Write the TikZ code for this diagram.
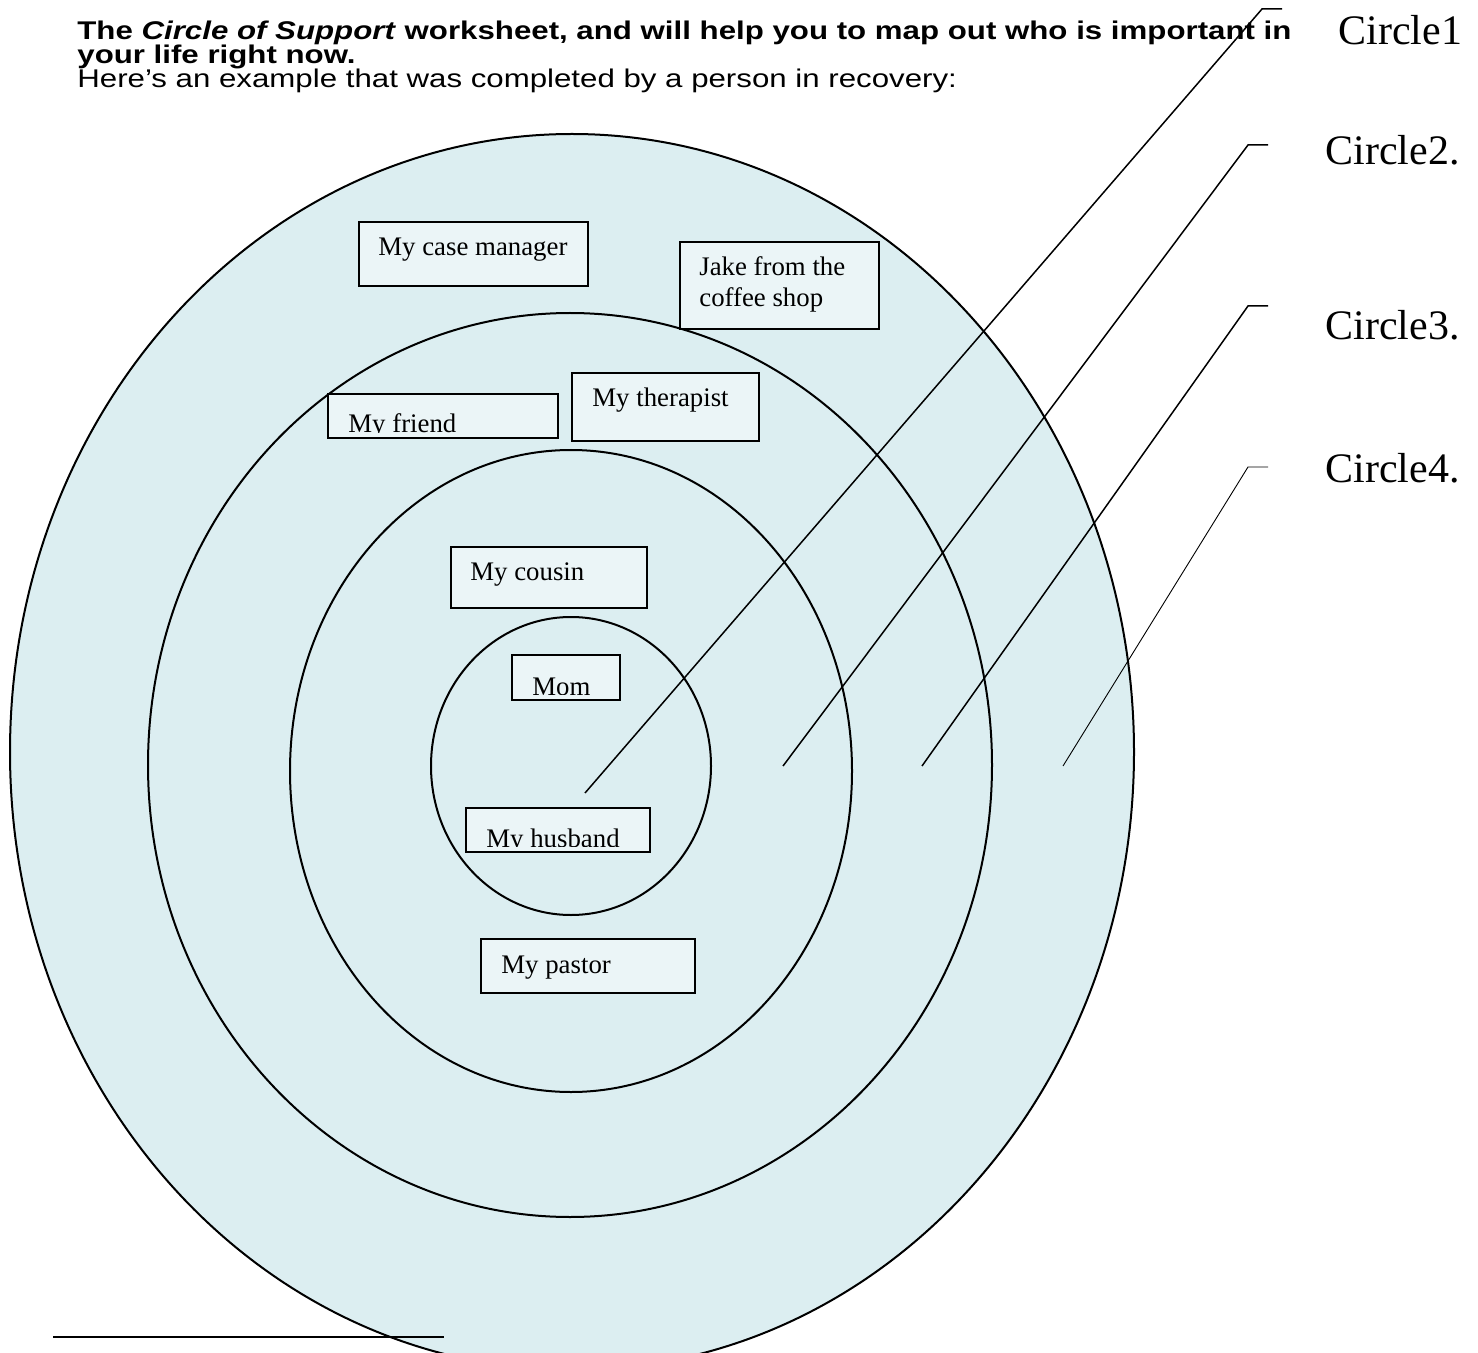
\documentclass[tikz,border=0pt]{standalone}
\usepackage{fontspec}
\setmainfont{Liberation Serif}
\newfontfamily\headfont[FakeStretch=1.22]{Liberation Sans}
\newcommand\headsize{\headfont\fontsize{12.8}{12}\selectfont\lineskiplimit=-20pt\relax}
\usetikzlibrary{positioning}
\definecolor{ringfill}{HTML}{DCEEF1}

\begin{document}
\begin{tikzpicture}[x=0.5pt, y=-0.5pt,
  ring/.style={draw=black, line width=1pt, fill=ringfill},
  personbox/.style={rectangle, draw=black, line width=0.9pt, fill=white, fill opacity=0.45, anchor=north west, inner sep=0pt},
  persontext/.style={anchor=base west, inner sep=0pt, font=\fontsize{13.4}{15}\selectfont},
  ringlabel/.style={anchor=base west, inner sep=0pt, font=\fontsize{21}{24}\selectfont},
  headline/.style={anchor=north west, inner sep=0pt, align=left, font=\headsize},
  leader/.style={line width=0.75pt}]

  \useasboundingbox (0,0) rectangle (1478,1353);
  \fill[white] (0,0) rectangle (1478,1353);
  \clip (0,0) rectangle (1478,1353);

  % heading
  \node[headline] (head) at (77,21) {\textbf{The \textit{Circle of Support} worksheet, and will help you to map out who is important in}\\
    \textbf{your life right now.}\\
    Here’s an example that was completed by a person in recovery:};

  % the four rings
  \draw[ring] (572,752) ellipse [x radius=562, y radius=618];
  \draw[ring] (570,765) ellipse [x radius=422, y radius=452];
  \draw[ring] (571,771) ellipse [x radius=281, y radius=321];
  \draw[ring] (571,766) ellipse [x radius=140, y radius=149];

  % people
  \node[personbox, minimum width=114.5pt, minimum height=32pt] (casemgr) at (358,221) {};
  \node[persontext] (casemgrtxt) at ([shift={(20,35)}]casemgr.north west) {My case manager};

  \node[personbox, minimum width=99.5pt, minimum height=43.5pt] (jake) at (679,241) {};
  \node[persontext] (jaketxt1) at ([shift={(20,35)}]jake.north west) {Jake from the};
  \node[persontext] (jaketxt2) at ([shift={(20,66)}]jake.north west) {coffee shop};

  \node[personbox, minimum width=115pt, minimum height=22pt] (friend) at (327,393) {};
  \begin{scope}
    \clip ([shift={(2,-6)}]friend.south west) rectangle ([shift={(-2,2)}]friend.north east);
    \node[persontext] (friendtxt) at ([shift={(21,-6)}]friend.south west) {My friend};
  \end{scope}

  \node[personbox, minimum width=93.5pt, minimum height=34pt] (therapist) at (571,372) {};
  \node[persontext] (therapisttxt) at ([shift={(21,35)}]therapist.north west) {My therapist};

  \node[personbox, minimum width=98pt, minimum height=30.5pt] (cousin) at (450,546) {};
  \node[persontext] (cousintxt) at ([shift={(20,35)}]cousin.north west) {My cousin};

  \node[personbox, minimum width=54pt, minimum height=22.5pt] (mom) at (511,654) {};
  \begin{scope}
    \clip ([shift={(2,-6)}]mom.south west) rectangle ([shift={(-2,2)}]mom.north east);
    \node[persontext] (momtxt) at ([shift={(21,-5)}]mom.south west) {Mom};
  \end{scope}

  \node[personbox, minimum width=92pt, minimum height=22pt] (husband) at (465,807) {};
  \begin{scope}
    \clip ([shift={(2,-6)}]husband.south west) rectangle ([shift={(-2,2)}]husband.north east);
    \node[persontext] (husbandtxt) at ([shift={(21,-5)}]husband.south west) {My husband};
  \end{scope}

  \node[personbox, minimum width=107pt, minimum height=27pt] (pastor) at (480,938) {};
  \node[persontext] (pastortxt) at ([shift={(21,35)}]pastor.north west) {My pastor};

  % ring labels
  \node[ringlabel] (lab1) at (1338,45) {Circle1};
  \node[ringlabel] (lab2) at (1325,165) {Circle2.};
  \node[ringlabel] (lab3) at (1325,340) {Circle3.};
  \node[ringlabel] (lab4) at (1325,483) {Circle4.};

  % leader lines
  \coordinate (tip1) at (585,793);
  \coordinate (tip2) at (783,766);
  \coordinate (tip3) at (922,766);
  \coordinate (tip4) at (1063,766);
  \coordinate (bend1) at (1262,9);
  \coordinate (bend2) at (1248,145);
  \coordinate (bend3) at (1248,306);
  \coordinate (bend4) at (1248,467);
  \draw[leader] (tip1) -- (bend1) -- ++(20,0);
  \draw[leader] (tip2) -- (bend2) -- ++(20,0);
  \draw[leader] (tip3) -- (bend3) -- ++(20,0);
  \draw[leader, line width=0.45pt] (tip4) -- (bend4) -- ++(20,0);

  % footnote rule
  \coordinate (rulestart) at (53,1337);
  \coordinate (ruleend) at (444,1337);
  \draw[line width=1pt] (rulestart) -- (ruleend);

\end{tikzpicture}
\end{document}
